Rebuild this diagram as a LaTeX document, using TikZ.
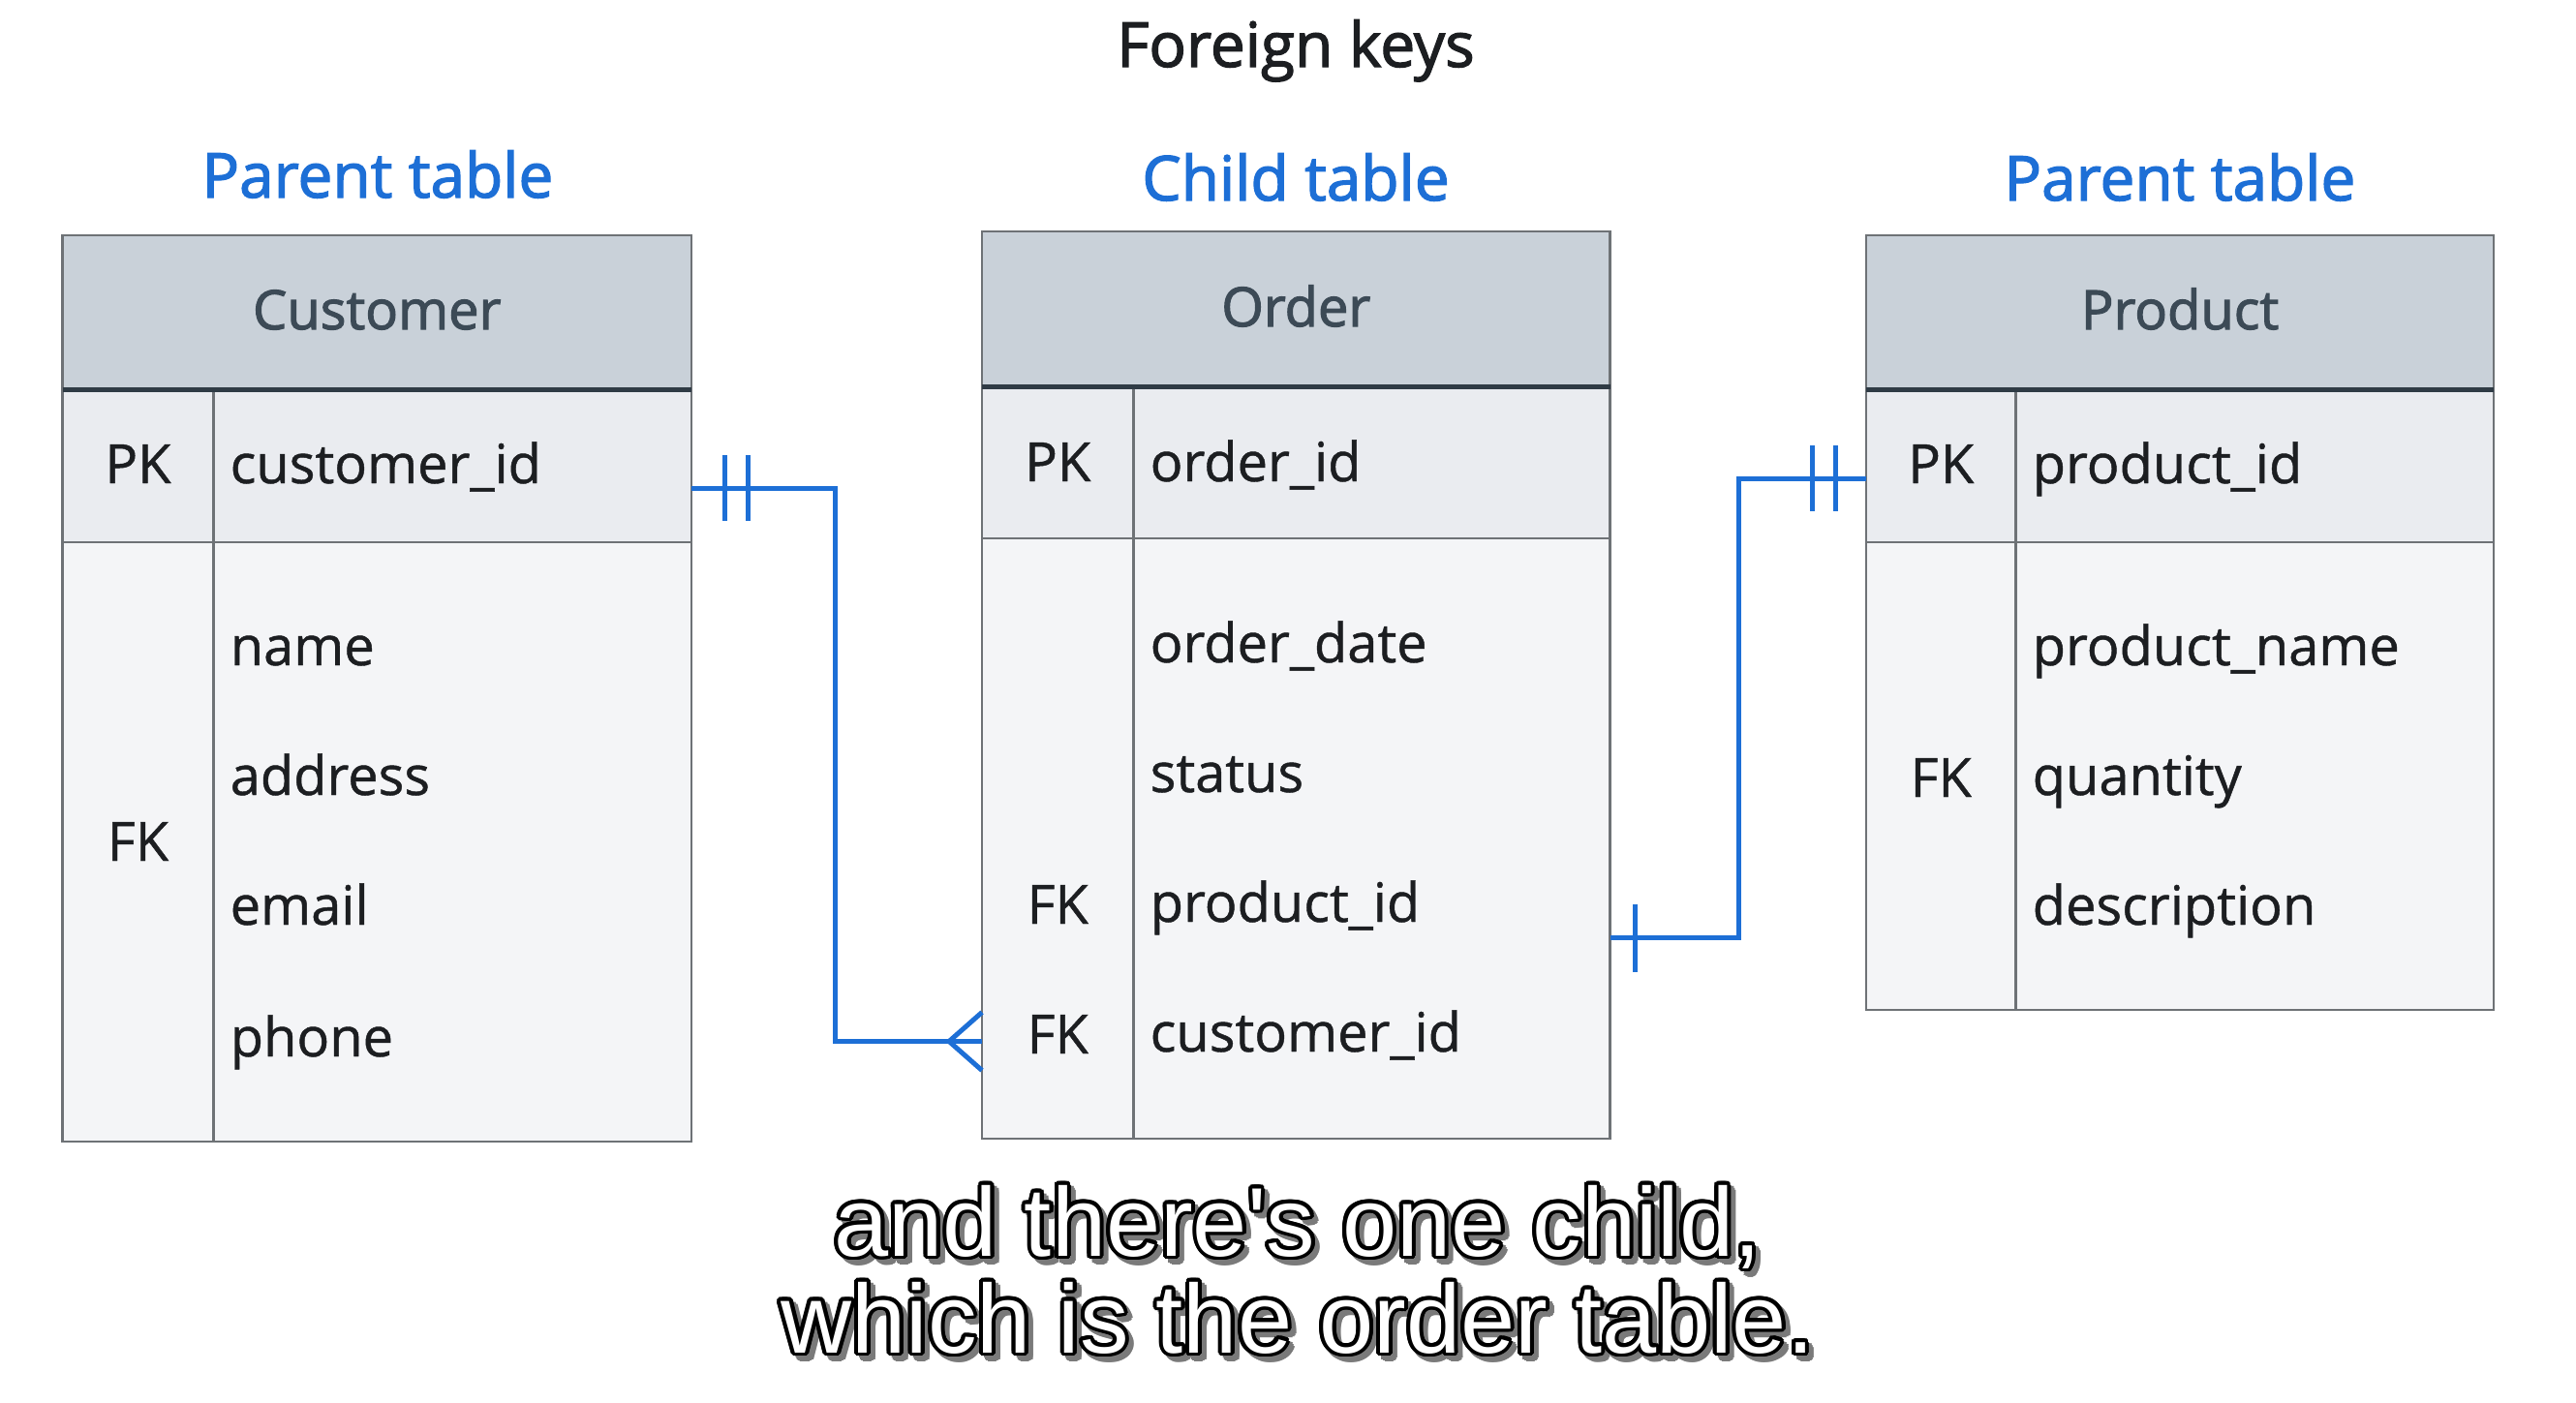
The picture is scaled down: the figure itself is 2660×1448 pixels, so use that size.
\documentclass[tikz,border=0pt]{standalone}
\usepackage{fontspec}
\setmainfont{Open Sans}[FakeBold=0.8]
\newfontfamily\headfont[FakeBold=2]{Open Sans}
\newfontfamily\subfont{Liberation Sans}
\usetikzlibrary{calc}
\definecolor{hdr}{HTML}{C9D1D9}
\definecolor{pkfill}{HTML}{EAECF0}
\definecolor{bodyfill}{HTML}{F4F5F7}
\definecolor{edge}{HTML}{6E7276}
\definecolor{hline}{HTML}{2F3B45}
\definecolor{hdrtext}{HTML}{3C4A56}
\definecolor{ink}{HTML}{1C1E21}
\definecolor{fkblue}{HTML}{1D6FD6}
\definecolor{shadowgray}{HTML}{7A7A7A}
\newcommand\cellfont{\fontsize{56}{64}\selectfont}
\newcommand\hdfont{\headfont\fontsize{56}{64}\selectfont}
\newcommand\ttlfont{\headfont\fontsize{64}{72}\selectfont}
\newcommand\erdtbl[7]{%
  \fill[bodyfill] (#1,#2) rectangle (#3,#4);
  \fill[pkfill] (#1,#5) rectangle (#3,#6);
  \fill[hdr] (#1,#2) rectangle (#3,#5);
  \draw[edge, line width=2.5pt] (#1,#6) -- (#3,#6);
  \draw[edge, line width=2.5pt] (#7,#5) -- (#7,#4);
  \draw[edge, line width=2.5pt] (#1,#2) rectangle (#3,#4);
  \draw[hline, line width=5pt] (#1,#5) -- (#3,#5);
}
\begin{document}
\begin{tikzpicture}[x=1pt,y=-1pt,
  cellk/.style={font=\cellfont, text=ink, inner sep=0pt, text height=38pt, text depth=0pt, anchor=center},
  cellf/.style={font=\cellfont, text=ink, inner sep=0pt, text height=38pt, text depth=0pt, anchor=west},
  hdrtxt/.style={font=\hdfont, text=hdrtext, inner sep=0pt, text height=38pt, text depth=0pt},
  ttl/.style={font=\ttlfont, inner sep=0pt, text height=44pt, text depth=0pt},
  rel/.style={draw=fkblue, line width=5pt},
  subt/.style={font=\subfont\fontsize{101}{110}\selectfont, inner sep=0pt, anchor=base}]
\useasboundingbox (0,0) rectangle (2660,1448);
\fill[white] (0,0) rectangle (2660,1448);

% titles
\node[ttl, text=ink] (title) at (1338,47) {Foreign keys};
\node[ttl, text=fkblue] (lblcust) at (390,182) {Parent table};
\node[ttl, text=fkblue] (lblord) at (1338,185) {Child table};
\node[ttl, text=fkblue] (lblprod) at (2251,185) {Parent table};

% tables
\erdtbl{64.5}{243}{714}{1179}{402}{560}{220.5}
\erdtbl{1014}{239}{1662.5}{1176}{399}{556}{1170.5}
\erdtbl{1927}{243}{2575}{1043}{402}{560}{2081.5}

% Customer
\node[hdrtxt] (custH) at (389.25,321) {Customer};
\node[cellk] (custPK) at (142.5,480) {PK};
\node[cellk] (custFK) at (142.5,870) {FK};
\node[cellf] (custF0) at (237.5,480) {customer\_id};
\node[cellf] (custF1) at (237.5,668) {name};
\node[cellf] (custF2) at (237.5,802) {address};
\node[cellf] (custF3) at (237.5,936) {email};
\node[cellf] (custF4) at (237.5,1072) {phone};

% Order
\node[hdrtxt] (ordH) at (1338.25,318) {Order};
\node[cellk] (ordPK) at (1092.25,478) {PK};
\node[cellk] (ordFK1) at (1092.25,935) {FK};
\node[cellk] (ordFK2) at (1092.25,1069) {FK};
\node[cellf] (ordF0) at (1187.5,478) {order\_id};
\node[cellf] (ordF1) at (1187.5,665) {order\_date};
\node[cellf] (ordF2) at (1187.5,799) {status};
\node[cellf] (ordF3) at (1187.5,933) {product\_id};
\node[cellf] (ordF4) at (1187.5,1067) {customer\_id};

% Product
\node[hdrtxt] (prodH) at (2251,321) {Product};
\node[cellk] (prodPK) at (2004.25,480) {PK};
\node[cellk] (prodFK) at (2004.25,804) {FK};
\node[cellf] (prodF0) at (2098.5,480) {product\_id};
\node[cellf] (prodF1) at (2098.5,668) {product\_name};
\node[cellf] (prodF2) at (2098.5,802) {quantity};
\node[cellf] (prodF3) at (2098.5,936) {description};

% connector ends
\coordinate (custR) at (714,504);
\coordinate (ordL) at (1014,1075.5);
\coordinate (ordR) at (1662.5,968.5);
\coordinate (prodL) at (1927,494);

% Customer -> Order
\draw[rel] (custR) -- ++(148,0) |- (ordL);
\draw[rel] ($(custR)+(34,-34)$) -- ($(custR)+(34,34)$);
\draw[rel] ($(custR)+(58,-34)$) -- ($(custR)+(58,34)$);
\draw[rel] ($(ordL)+(0,-30)$) -- ($(ordL)+(-34,0)$) -- ($(ordL)+(0,30)$);

% Order -> Product
\draw[rel] (ordR) -- ++(132.5,0) |- (prodL);
\draw[rel] ($(ordR)+(25.5,-35)$) -- ($(ordR)+(25.5,35)$);
\draw[rel] ($(prodL)+(-56,-34)$) -- ($(prodL)+(-56,34)$);
\draw[rel] ($(prodL)+(-32,-34)$) -- ($(prodL)+(-32,34)$);

% subtitle
\coordinate (sub1) at (1340,1297);
\coordinate (sub2) at (1340,1397);
\foreach \a in {0,30,...,330} {
  \node[subt, text=shadowgray] (sa\a) at ($(sub1)+(5,5)+(\a:4pt)$) {and there's one child,};
  \node[subt, text=shadowgray] (sb\a) at ($(sub2)+(5,5)+(\a:4pt)$) {which is the order table.};
}
\foreach \a in {0,20,...,340} {
  \node[subt, text=black] (oa\a) at ($(sub1)+(\a:4pt)$) {and there's one child,};
  \node[subt, text=black] (ob\a) at ($(sub2)+(\a:4pt)$) {which is the order table.};
}
\node[subt, text=white] (line1) at (sub1) {and there's one child,};
\node[subt, text=white] (line2) at (sub2) {which is the order table.};
\end{tikzpicture}
\end{document}
